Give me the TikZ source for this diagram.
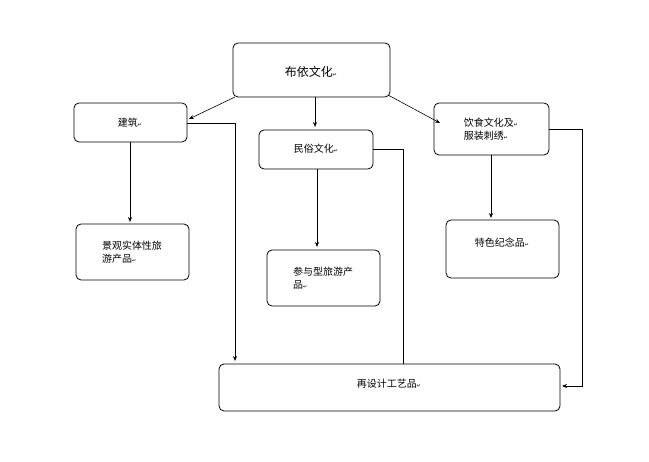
\documentclass[tikz,border=0pt]{standalone}
\usepackage{fontspec}
\usetikzlibrary{arrows.meta}
\setmainfont{Noto Sans CJK SC}
\newfontfamily\retfont{DejaVu Sans}
\newcommand{\rt}{{\retfont\tiny ↵}}
\begin{document}
\begin{tikzpicture}[x=1pt,y=-1pt,
  box/.style={draw,rounded corners=5pt,thick,fill=white},
  lbl/.style={font=\fontsize{10}{13}\selectfont,align=left},
  arr/.style={-{Stealth[length=5pt,width=4pt]},line width=0.6pt},
  ln/.style={line width=0.6pt}]
\useasboundingbox (0,0) rectangle (649,462);
\draw[box] (233,43) rectangle (390,97); \node[lbl,font=\fontsize{12}{14}\selectfont] (a) at (311,72) {布依文化\rt};
\draw[box] (74,103) rectangle (187,142); \node[lbl] (b) at (130,123) {建筑\rt};
\draw[box] (259,130) rectangle (373,169); \node[lbl] (c) at (316,149) {民俗文化\rt};
\draw[box] (434,103) rectangle (549,155); \node[lbl] (d) at (491,129) {饮食文化及\rt\\服装刺绣\rt};
\draw[box] (76,224) rectangle (189,280); \node[lbl] (e) at (132,252) {景观实体性旅\\游产品\rt};
\draw[box] (267,250) rectangle (380,306); \node[lbl] (f) at (323,278) {参与型旅游产\\品\rt};
\draw[box] (446,220) rectangle (559,278); \node[lbl] (g) at (502,243) {特色纪念品\rt};
\draw[box] (219,364) rectangle (560,411); \node[lbl] (h) at (389,384) {再设计工艺品\rt};
\draw[arr] (235,97) -- (189,119);
\draw[arr] (315,97) -- (315,127);
\draw[arr] (388,95) -- (440,123);
\draw[arr] (130,142) -- (130,222);
\draw[arr] (187,123) -- (235,123) -- (235,361);
\draw[arr] (317,169) -- (317,247);
\draw[ln] (373,149) -- (403,149) -- (403,364);
\draw[arr] (491,155) -- (491,218);
\draw[arr] (549,129) -- (582,129) -- (582,386) -- (562,386);
\end{tikzpicture}
\end{document}
